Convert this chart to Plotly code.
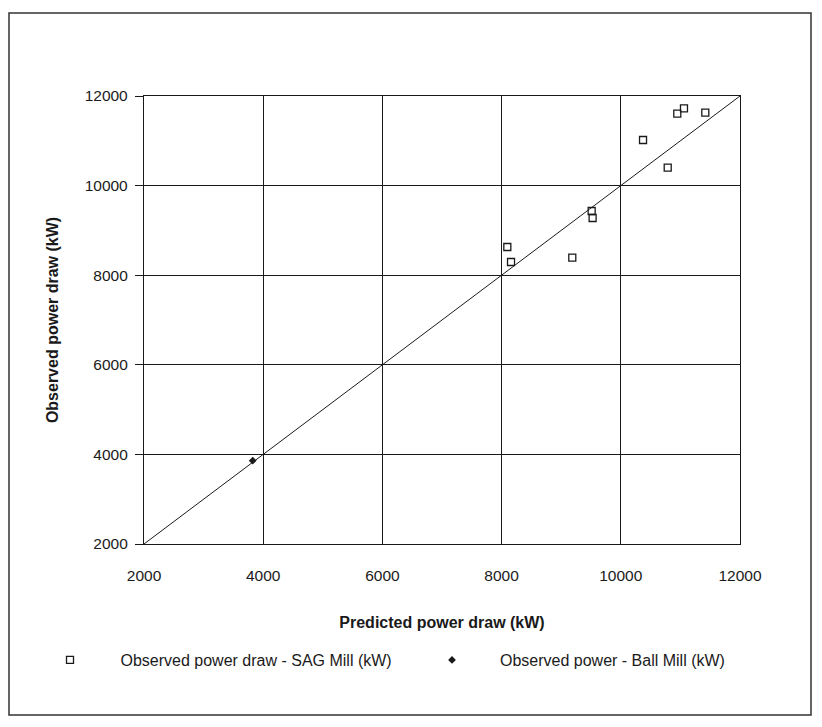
import plotly.graph_objects as go

sag_pred = [11060, 10948, 11418, 10373, 10787, 9511, 9527, 8096, 8158, 9186]
sag_obs = [11725, 11605, 11627, 11018, 10400, 9433, 9277, 8629, 8295, 8391]
ball_pred = [3824]
ball_obs = [3860]
line_vals = [2000, 12000]
ticks = [2000, 4000, 6000, 8000, 10000, 12000]
tick_labels = ["2000", "4000", "6000", "8000", "10000", "12000"]

W, H = 822, 727
L, R, T, B = 144, 82, 96, 183
pw, ph = W - L - R, H - T - B

def px(x):
    return (x - L) / pw

def py(y):
    return (H - B - y) / ph

font = "Liberation Sans, Arial, sans-serif"
ink = "#1a1a1a"

fig = go.Figure()
fig.add_trace(go.Scatter(x=line_vals, y=line_vals, mode="lines",
                         line=dict(color=ink, width=1), showlegend=False, hoverinfo="skip"))
fig.add_trace(go.Scatter(x=sag_pred, y=sag_obs, mode="markers",
                         name="Observed power draw - SAG Mill (kW)", legend="legend",
                         marker=dict(symbol="square-open", size=7, color=ink,
                                     line=dict(width=1.3, color=ink))))
fig.add_trace(go.Scatter(x=ball_pred, y=ball_obs, mode="markers",
                         name="Observed power - Ball Mill (kW)", legend="legend2",
                         marker=dict(symbol="diamond", size=6, color=ink)))

axis_common = dict(range=[2000, 12000], tickvals=ticks, ticktext=tick_labels,
                   showgrid=True, gridcolor=ink,
                   gridwidth=1.3, showline=True, linecolor=ink, linewidth=1.3, mirror=True,
                   zeroline=False,
                   tickfont=dict(family=font, size=15.5, color=ink))
fig.update_xaxes(**axis_common, ticks="", ticklabelstandoff=17,
                 title=dict(text="<b>Predicted power draw (kW)</b>", standoff=34,
                            font=dict(family=font, size=16, color=ink)))
fig.update_yaxes(**axis_common, ticks="outside", ticklen=8, tickcolor=ink, ticklabelstandoff=4,
                 title=dict(text="<b>Observed power draw (kW)</b>", standoff=22,
                            font=dict(family=font, size=16, color=ink)))

fig.add_shape(type="rect", xref="paper", yref="paper",
              x0=px(9), x1=px(811), y0=py(715), y1=py(13),
              line=dict(color="#333", width=1.5), fillcolor="rgba(0,0,0,0)")

leg_font = dict(family=font, size=16, color=ink)
fig.update_layout(
    width=W, height=H, margin=dict(l=L, r=R, t=T, b=B, autoexpand=False),
    paper_bgcolor="white", plot_bgcolor="white",
    font=dict(family=font, size=15, color=ink),
    legend=dict(orientation="h", x=px(19.5), xanchor="left", y=py(660), yanchor="middle",
                itemwidth=91, font=leg_font, bgcolor="rgba(0,0,0,0)"),
    legend2=dict(orientation="h", x=px(404), xanchor="left", y=py(660), yanchor="middle",
                 itemwidth=86, font=leg_font, bgcolor="rgba(0,0,0,0)"),
)

fig.write_html("out.html")
